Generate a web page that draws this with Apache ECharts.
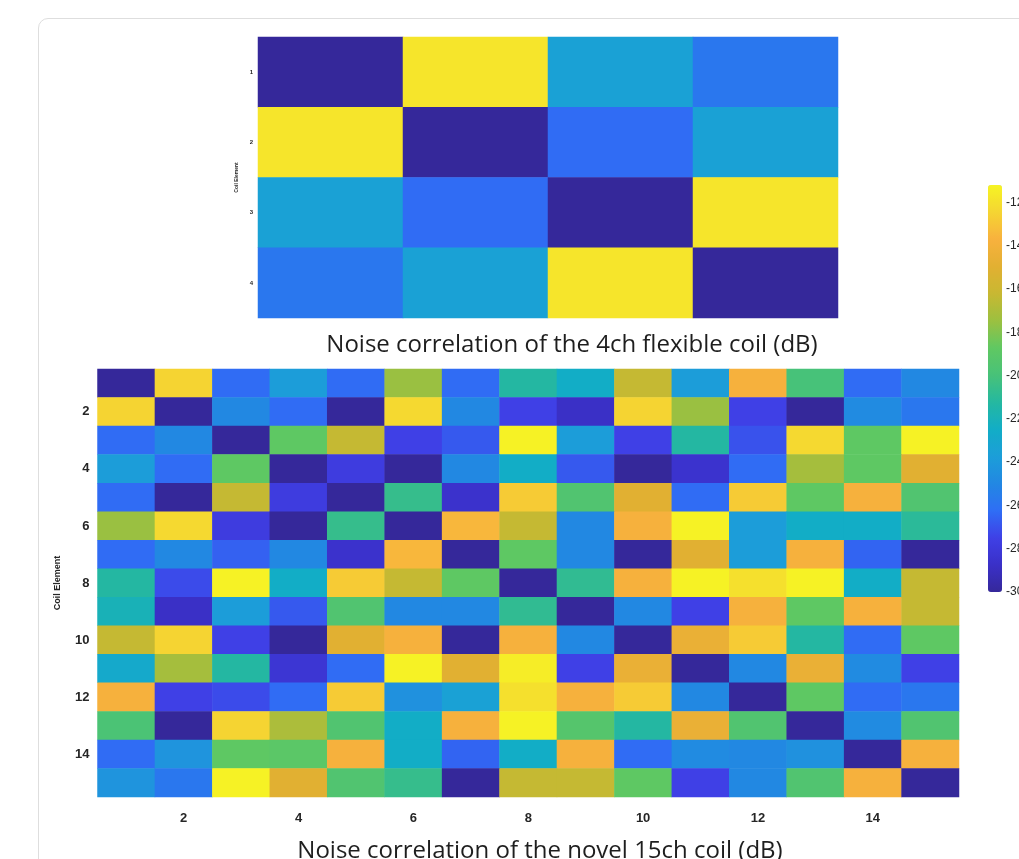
<!DOCTYPE html>
<html lang="en">
<head>
    <meta charset="UTF-8">
    <title>Noise correlation</title>
    <script src="https://cdn.jsdelivr.net/npm/echarts@6/dist/echarts.min.js"></script>
    <style>
        html, body { margin: 0; padding: 0; background: #fff; overflow: hidden; }
        #card { position: absolute; left: 38px; top: 18px; width: 1100px; height: 900px;
                border: 1.5px solid #dedede; border-radius: 10px; box-sizing: border-box; }
        #main { position: absolute; left: 0; top: 0; width: 1019px; height: 859px; }
    </style>
</head>
<body>
    <div id="card"></div>
    <div id="main"></div>
    <script type="text/javascript">
        var myChart = echarts.init(document.getElementById('main'));

        // coil element names
        var coils4 = ['1', '2', '3', '4'];
        var coils15 = ['1', '2', '3', '4', '5', '6', '7', '8', '9', '10', '11', '12', '13', '14', '15'];

        // noise correlation, dB (row = coil element, top to bottom)
        var corr4 = [
            [-30, -11.8, -23.5, -25.8],
            [-11.8, -30, -26.3, -23.5],
            [-23.5, -26.3, -30, -11.8],
            [-25.8, -23.5, -11.8, -30]
        ];
        var corr15 = [
            [-30, -12.5, -26.3, -23.8, -26.3, -17.5, -26.3, -21.3, -22.5, -16.3, -23.8, -13.8, -20, -26.3, -25],
            [-12.5, -30, -25, -26.3, -30, -12.3, -25, -27.5, -28.8, -12.5, -17.5, -27.5, -30, -24.8, -25.8],
            [-26.3, -25, -30, -18.8, -16.3, -27.5, -26.8, -11.3, -23.8, -27.5, -21.3, -27, -12.3, -18.8, -11.3],
            [-23.8, -26.3, -18.8, -30, -27.8, -30, -25, -22.5, -26.8, -30, -28.5, -26.3, -17.2, -18.8, -15],
            [-26.3, -30, -16.3, -27.8, -30, -20.6, -28.6, -12.8, -19.5, -15, -26.3, -12.8, -18.8, -13.8, -19.5],
            [-17.5, -12.3, -27.8, -30, -20.6, -30, -13.5, -16.3, -25, -13.8, -11.3, -23.8, -22.5, -22.5, -21],
            [-26.3, -25, -26.6, -25, -28.6, -13.5, -30, -18.8, -25, -30, -15, -23.8, -13.8, -26.5, -30],
            [-21.3, -27.2, -11.3, -22.5, -12.8, -16.3, -18.8, -30, -20.8, -13.8, -11.3, -12, -11.3, -22.5, -16.3],
            [-22, -28.8, -23.8, -26.8, -19.5, -25, -25, -20.8, -30, -25, -27.5, -13.8, -18.8, -13.8, -16.3],
            [-16.3, -12.5, -27.5, -30, -15, -13.8, -30, -13.8, -25, -30, -14.5, -12.8, -21.3, -26.3, -18.8],
            [-22.8, -17.2, -21.3, -28.3, -26.3, -11.3, -15, -11.5, -27.5, -14.5, -30, -25, -14.5, -24.8, -27.5],
            [-13.8, -27.5, -27.2, -26.3, -12.8, -24.5, -23.5, -12, -13.8, -12.8, -25, -30, -18.8, -26.3, -25.8],
            [-19.8, -30, -12.5, -17, -19.5, -22.5, -13.8, -11.3, -19.3, -21.3, -14.5, -19.5, -30, -24.8, -19.5],
            [-26.3, -24.3, -18.8, -19, -13.8, -22.5, -26.5, -22.5, -13.8, -26.3, -24.8, -25, -24.5, -30, -13.8],
            [-24.3, -25.8, -11.3, -15, -19.5, -20.6, -30, -16.3, -16.3, -18.8, -27.5, -25, -19.5, -13.8, -30]
        ];

        // colour bar range (dB)
        var cbMin = -30, cbMax = -11.2;

        // parula-like colour map
        var parula = ['#35289a', '#3a30c8', '#3f40e6', '#2f6ef5', '#2288e2', '#1c9ed8', '#12adc6', '#25b8a0',
            '#48c278', '#60c862', '#9cc040', '#c8b832', '#e2b032', '#f8b13e', '#f5d532', '#f6f424'];

        // matrix -> [col, row, value]
        let toCells = (m) => {
            let out = [];
            for (let r = 0; r < m.length; r++) {
                for (let c = 0; c < m[r].length; c++) {
                    out.push([c, r, m[r][c]]);
                }
            }
            return out;
        };

        let txt = '#262626';
        let evenOnly = (i) => i % 2 === 1;
        let titleFont = '24px "Open Sans", "Noto Sans", sans-serif';

        let option = {
            animation: false,
            grid: [
                {left: 258, top: 37, width: 580, height: 281, outerBoundsMode: 'none'},
                {left: 97.5, top: 369, width: 861.5, height: 428, outerBoundsMode: 'none'},
                {left: 988, top: 185, width: 14, height: 407, outerBoundsMode: 'none'}
            ],
            xAxis: [
                {gridIndex: 0, type: 'category', data: coils4, position: 'bottom',
                    axisLine: {show: false}, axisLabel: {show: false},
                    axisTick: {inside: true, alignWithLabel: true, length: 3, lineStyle: {color: '#555'}},
                    splitLine: {show: false}},
                {gridIndex: 0, type: 'category', data: coils4, position: 'top',
                    axisLine: {show: false}, axisLabel: {show: false},
                    axisTick: {inside: true, alignWithLabel: true, length: 3, lineStyle: {color: '#555'}}},
                {gridIndex: 1, type: 'category', data: coils15, position: 'bottom',
                    axisLine: {show: false},
                    axisLabel: {interval: evenOnly, color: txt, fontSize: 13, fontWeight: 'bold',
                        fontFamily: 'Liberation Sans, Arial', margin: 15},
                    axisTick: {inside: true, alignWithLabel: true, interval: evenOnly, length: 4, lineStyle: {color: '#555'}}},
                {gridIndex: 1, type: 'category', data: coils15, position: 'top',
                    axisLine: {show: false}, axisLabel: {show: false},
                    axisTick: {inside: true, alignWithLabel: true, interval: evenOnly, length: 4, lineStyle: {color: '#555'}}},
                {gridIndex: 2, type: 'value', show: false, min: 0, max: 1}
            ],
            yAxis: [
                {gridIndex: 0, type: 'category', data: coils4, inverse: true, position: 'left',
                    axisLine: {show: false},
                    axisLabel: {color: txt, fontSize: 6, fontWeight: 'bold', margin: 5},
                    axisTick: {inside: true, alignWithLabel: true, length: 3, lineStyle: {color: '#555'}},
                    name: 'Coil Element', nameLocation: 'middle', nameGap: 17,
                    nameTextStyle: {color: txt, fontSize: 5, fontWeight: 'bold'}},
                {gridIndex: 0, type: 'category', data: coils4, inverse: true, position: 'right',
                    axisLine: {show: false}, axisLabel: {show: false},
                    axisTick: {inside: true, alignWithLabel: true, length: 3, lineStyle: {color: '#555'}}},
                {gridIndex: 1, type: 'category', data: coils15, inverse: true, position: 'left',
                    axisLine: {show: false},
                    axisLabel: {interval: evenOnly, color: txt, fontSize: 13, fontWeight: 'bold',
                        fontFamily: 'Liberation Sans, Arial', margin: 8},
                    axisTick: {inside: true, alignWithLabel: true, interval: evenOnly, length: 4, lineStyle: {color: '#555'}},
                    name: 'Coil Element', nameLocation: 'middle', nameGap: 35,
                    nameTextStyle: {color: txt, fontSize: 9, fontWeight: 'bold', fontFamily: 'Liberation Sans, Arial'}},
                {gridIndex: 1, type: 'category', data: coils15, inverse: true, position: 'right',
                    axisLine: {show: false}, axisLabel: {show: false},
                    axisTick: {inside: true, alignWithLabel: true, interval: evenOnly, length: 4, lineStyle: {color: '#555'}}},
                {gridIndex: 2, type: 'value', position: 'right', min: cbMin, max: cbMax, interval: 2,
                    axisLine: {show: false}, splitLine: {show: false},
                    axisTick: {show: false},
                    axisLabel: {color: txt, fontSize: 12, margin: 4, showMaxLabel: false,
                        fontFamily: 'Liberation Sans, Arial'}}
            ],
            visualMap: {
                type: 'continuous',
                min: cbMin,
                max: cbMax,
                seriesIndex: [0, 1],
                calculable: false,
                hoverLink: false,
                orient: 'vertical',
                left: 988,
                top: 185,
                itemWidth: 14,
                itemHeight: 407,
                padding: 0,
                inRange: {color: parula}
            },
            graphic: [
                {type: 'text', x: 572, y: 345,
                    style: {text: 'Noise correlation of the 4ch flexible coil (dB)', fill: '#1e1e1e',
                        font: titleFont, textAlign: 'center', textVerticalAlign: 'middle'}},
                {type: 'text', x: 540, y: 851,
                    style: {text: 'Noise correlation of the novel 15ch coil (dB)', fill: '#1e1e1e',
                        font: titleFont, textAlign: 'center', textVerticalAlign: 'middle'}}
            ],
            series: [
                {
                    name: '4ch',
                    type: 'heatmap',
                    xAxisIndex: 0,
                    yAxisIndex: 0,
                    data: toCells(corr4),
                    emphasis: {disabled: true}
                },
                {
                    name: '15ch',
                    type: 'heatmap',
                    xAxisIndex: 2,
                    yAxisIndex: 2,
                    data: toCells(corr15),
                    emphasis: {disabled: true}
                }
            ]
        };

        myChart.setOption(option);
    </script>
</body>
</html>
